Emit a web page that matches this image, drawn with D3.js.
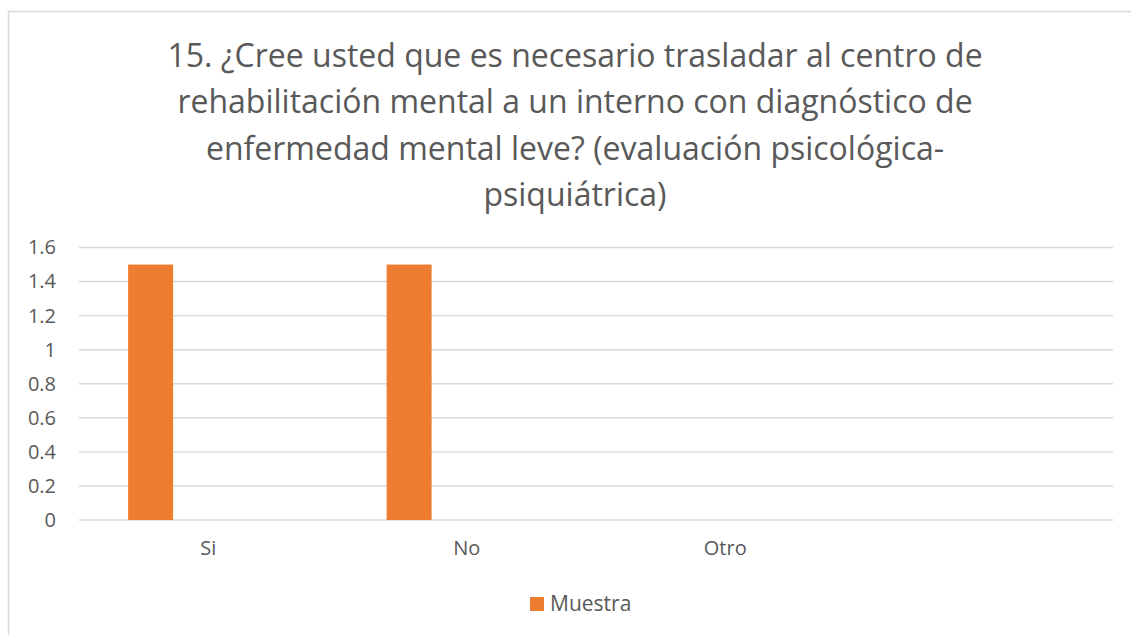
<!DOCTYPE html>
<html>
<head>
<meta charset="utf-8">
<script src="https://cdn.jsdelivr.net/npm/d3@7"></script>
<style>
  body { margin: 0; background: #fff; }
  svg { display: block; font-family: 'Open Sans', sans-serif; }
</style>
</head>
<body>
<svg id="chart" width="1131" height="635"></svg>
<script>
let titleLines = [
  '15. ¿Cree usted que es necesario trasladar al centro de',
  'rehabilitación mental a un interno con diagnóstico de',
  'enfermedad mental leve? (evaluación psicológica-',
  'psiquiátrica)'
]
let categories = ['Si', 'No', 'Otro', ' ']
let muestra = [1.5, 1.5, 0, null]
let yTicks = [0, 0.2, 0.4, 0.6, 0.8, 1, 1.2, 1.4, 1.6]
let seriesName = 'Muestra'

const svg = d3.select('#chart')
const textColor = '#595959'
const gridColor = '#d9d9d9'
const barColor = '#ed7d31'

// chart frame, open on the right and bottom like the cropped source
svg.append('rect')
  .attr('x', 8.5)
  .attr('y', 11.5)
  .attr('width', 1200)
  .attr('height', 700)
  .style('fill', 'none')
  .style('stroke', gridColor)
  .style('stroke-width', 1.5)

svg.append('g')
  .selectAll('text')
  .data(titleLines)
  .join('text')
  .attr('x', 575)
  .attr('y', (d, i) => 67 + i * 46.3)
  .attr('text-anchor', 'middle')
  .text(d => d)
  .style('font-size', '32px')
  .style('fill', textColor)

const x = d3.scaleBand()
  .domain(categories)
  .range([79, 1113])

const y = d3.scaleLinear()
  .domain([0, 1.6])
  .range([520, 247.5])

// gridlines
svg.append('g')
  .selectAll('line')
  .data(yTicks)
  .join('line')
  .attr('x1', 79)
  .attr('x2', 1113)
  .attr('y1', d => y(d))
  .attr('y2', d => y(d))
  .style('stroke', gridColor)
  .style('stroke-width', 1.4)

// y axis labels
const yAxis = svg.append('g')
  .attr('transform', 'translate(56,0)')
  .call(d3.axisLeft(y).tickValues(yTicks).tickSize(0).tickPadding(0).tickFormat(d => d))
yAxis.select('.domain').remove()
yAxis.selectAll('text')
  .style('font-size', '20px')
  .style('font-family', "'Open Sans', sans-serif")
  .style('fill', textColor)

// x axis labels
const xAxis = svg.append('g')
  .attr('transform', 'translate(0,530)')
  .call(d3.axisBottom(x).tickSize(0).tickPadding(11))
xAxis.select('.domain').remove()
xAxis.selectAll('text')
  .style('font-size', '20px')
  .style('font-family', "'Open Sans', sans-serif")
  .style('fill', textColor)

// bars
svg.append('g')
  .selectAll('rect')
  .data(categories.map((c, i) => ({ cat: c, value: muestra[i] })).filter(d => d.value))
  .join('rect')
  .attr('x', d => x(d.cat) + x.bandwidth() * 0.19)
  .attr('width', x.bandwidth() * 0.174)
  .attr('y', d => y(d.value))
  .attr('height', d => y(0) - y(d.value))
  .style('fill', barColor)

// legend
const legend = svg.append('g')
legend.append('rect')
  .attr('x', 530)
  .attr('y', 597)
  .attr('width', 14)
  .attr('height', 14)
  .style('fill', barColor)
legend.append('text')
  .attr('x', 550)
  .attr('y', 611)
  .text(seriesName)
  .style('font-size', '21px')
  .style('fill', textColor)
</script>
</body>
</html>
